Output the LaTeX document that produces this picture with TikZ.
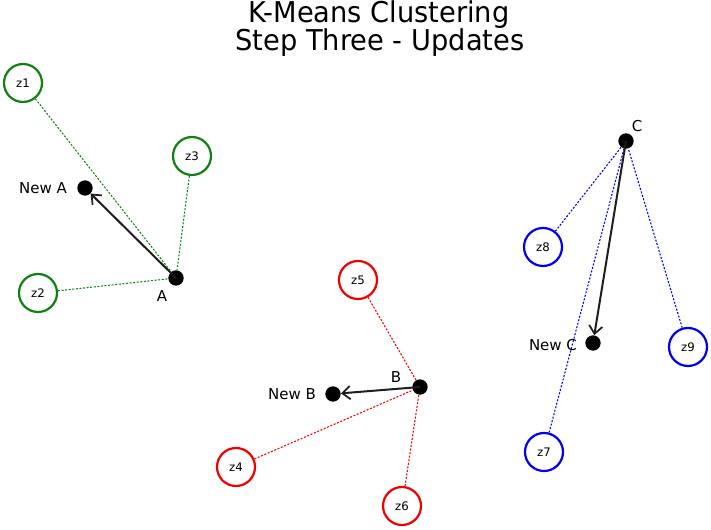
\documentclass[tikz,border=0pt]{standalone}
\usepackage{fontspec}
\setmainfont{DejaVu Sans}
\newfontfamily\titlefont[FakeStretch=0.95]{DejaVu Sans}
\usetikzlibrary{arrows.meta}
\definecolor{cgreen}{RGB}{16,128,16}
\definecolor{cred}{RGB}{240,0,0}
\definecolor{cblue}{RGB}{0,0,240}
\definecolor{carrow}{RGB}{30,30,30}
\tikzset{
  pt/.style={circle,draw,line width=1.65pt,minimum size=28.5pt,inner sep=0pt,fill=white,font=\fontsize{8.8pt}{10pt}\selectfont},
  gpt/.style={pt,draw=cgreen},
  rpt/.style={pt,draw=cred},
  bpt/.style={pt,draw=cblue},
  cen/.style={circle,fill=black,minimum size=11.5pt,inner sep=0pt},
  lab/.style={inner sep=0pt,font=\fontsize{11.25pt}{13pt}\selectfont},
  ttl/.style={inner sep=0pt,anchor=base,font=\titlefont\fontsize{21.5pt}{24pt}\selectfont},
  link/.style={line width=0.8pt,dash pattern=on 1.5pt off 1.2pt},
  move/.style={line width=1.5pt,draw=carrow,-{Straight Barb[length=6pt,width=10pt,line width=1.3pt]}}
}
\begin{document}
\begin{tikzpicture}[x=0.75pt,y=-0.75pt]
\useasboundingbox (0,0) rectangle (711,530);
% title
\node[ttl] (t1) at (379,23) {K-Means Clustering};
\node[ttl] (t2) at (380,51) {Step Three - Updates};
% centroids
\node[cen] (A) at (176,278) {};
\node[cen] (NA) at (85,188) {};
\node[cen] (B) at (420,387) {};
\node[cen] (NB) at (333,394) {};
\node[cen] (C) at (626,141) {};
\node[cen] (NC) at (593,343) {};
% labels
\node[lab] (lA) at (162,296) {A};
\node[lab] (lNA) at (43,188) {New A};
\node[lab] (lB) at (396,377) {B};
\node[lab] (lNB) at (292,394) {New B};
\node[lab] (lC) at (637,126) {C};
\node[lab] (lNC) at (553,345) {New C};
% points
\node[gpt] (z1) at (23,83) {z1};
\node[gpt] (z2) at (38,293) {z2};
\node[gpt] (z3) at (192,156) {z3};
\node[rpt] (z4) at (236,467) {z4};
\node[rpt] (z5) at (358,280) {z5};
\node[rpt] (z6) at (402,506) {z6};
\node[bpt] (z7) at (544,452) {z7};
\node[bpt] (z8) at (543,247) {z8};
\node[bpt] (z9) at (688,347) {z9};
% links
\draw[link,cgreen] (z1) -- (A);
\draw[link,cgreen] (z2) -- (A);
\draw[link,cgreen] (z3) -- (A);
\draw[link,cred] (z4) -- (B);
\draw[link,cred] (z5) -- (B);
\draw[link,cred] (z6) -- (B);
\draw[link,cblue] (z7) -- (C);
\draw[link,cblue] (z8) -- (C);
\draw[link,cblue] (z9) -- (C);
% moves
\draw[move] (A.center) -- (NA);
\draw[move] (B.center) -- (NB);
\draw[move] (C.center) -- (NC);
\end{tikzpicture}
\end{document}
